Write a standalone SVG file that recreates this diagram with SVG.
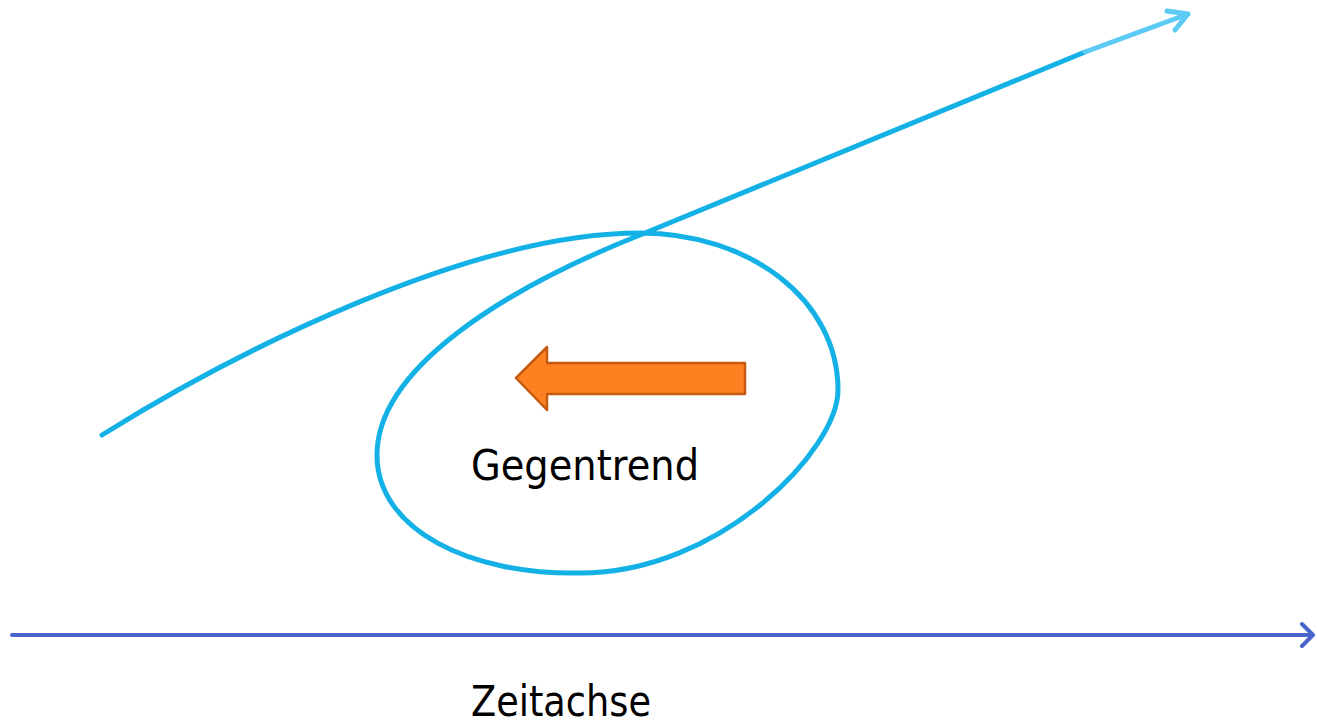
<svg xmlns="http://www.w3.org/2000/svg" width="1317" height="726" viewBox="0 0 1317 726">
  <style>
    .trend { fill: none; stroke: #14B1E7; stroke-width: 5; stroke-linecap: round; stroke-linejoin: round; }
    .trend-tip { fill: none; stroke: #5BCBF5; stroke-width: 5; stroke-linecap: round; stroke-linejoin: round; }
    .axis { fill: none; stroke: #4A66CC; stroke-width: 4; stroke-linecap: round; stroke-linejoin: round; }
    .label { font-family: "DejaVu Sans", "Liberation Sans", sans-serif; font-size: 42px; fill: #000000; }
  </style>
  <rect width="1317" height="726" fill="#ffffff"/>
  <g id="connectors">
    <g id="trend-curve">
      <path class="trend" d="M102,435 C235,352 470,233 640,233 C750,233 838,300 838,390 C838,450 720,573 580,573 C470,575 377,530 377,455 C377,370 500,290 645,233 L1085,52"/>
      <path class="trend-tip" d="M1085,52 L1188,14 M1167,11 L1188,14 L1175,30"/>
    </g>
    <g id="time-axis">
      <path class="axis" d="M12,635 L1313,635 M1302,624 L1313,635 L1302,646"/>
    </g>
  </g>
  <g id="countertrend-arrow">
    <path d="M516,378 L547,347 L547,363 L745,363 L745,394 L547,394 L547,410 Z" fill="#FF8021" stroke="#C55A11" stroke-width="2.5" stroke-linejoin="round"/>
  </g>
  <g id="label-gegentrend">
    <text class="label" x="471" y="480" textLength="228" lengthAdjust="spacingAndGlyphs">Gegentrend</text>
  </g>
  <g id="label-zeitachse">
    <text class="label" x="471" y="716" textLength="180" lengthAdjust="spacingAndGlyphs">Zeitachse</text>
  </g>
</svg>
